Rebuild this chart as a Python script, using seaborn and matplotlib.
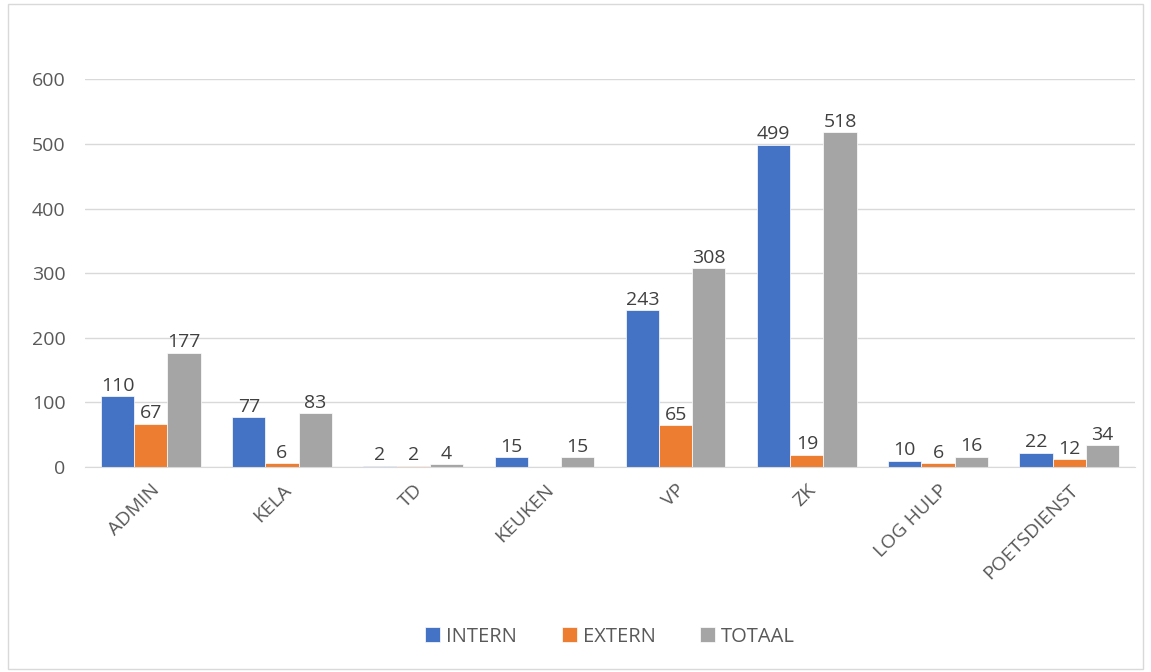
import numpy as np
import pandas as pd
import matplotlib.pyplot as plt
import seaborn as sns

# categories and series
afdelingen = ["ADMIN", "KELA", "TD", "KEUKEN", "VP", "ZK", "LOG HULP", "POETSDIENST"]
intern = [110, 77, 2, 15, 243, 499, 10, 22]
extern = [67, 6, 2, np.nan, 65, 19, 6, 12]
totaal = [177, 83, 4, 15, 308, 518, 16, 34]

df = pd.DataFrame({"afdeling": afdelingen, "INTERN": intern, "EXTERN": extern, "TOTAAL": totaal})
df = df.melt(id_vars="afdeling", var_name="soort", value_name="aantal")

sns.set_style("white")
plt.rcParams['font.family'] = ['Open Sans', 'DejaVu Sans']

fig = plt.figure(figsize=(11.51, 6.72), dpi=100)
ax = fig.add_axes([0.074, 0.305, 0.912, 0.577])

kleuren = {"INTERN": "#4472C4", "EXTERN": "#ED7D31", "TOTAAL": "#A5A5A5"}
sns.barplot(data=df, x="afdeling", y="aantal", hue="soort", palette=kleuren,
            width=0.76, ax=ax, saturation=1, linewidth=0.5, edgecolor="white")

# value labels
for c in ax.containers:
    ax.bar_label(c, fmt="%g", fontsize=14, color="#404040", padding=1)

ax.set_ylim(0, 600)
ax.set_yticks(range(0, 601, 100))
ax.yaxis.grid(True, color="#D9D9D9", linewidth=1)
ax.set_axisbelow(True)
for s in ["top", "right", "left"]:
    ax.spines[s].set_visible(False)
ax.spines["bottom"].set_color("#D9D9D9")
ax.set_xlabel("")
ax.set_ylabel("")
ax.tick_params(axis="both", length=0, labelsize=14, labelcolor="#595959", pad=10)
ax.tick_params(axis="y", pad=14)
plt.setp(ax.get_xticklabels(), rotation=45, ha="right", rotation_mode="anchor")

ax.legend(loc="upper center", bbox_to_anchor=(0.5, -0.365), ncol=3, frameon=False,
          fontsize=14.5, labelcolor="#595959", handlelength=0.75, handleheight=0.75,
          handletextpad=0.3, columnspacing=2.2)

# light border around the chart
fig.patches.append(plt.Rectangle((0.007, 0.004), 0.986, 0.99, transform=fig.transFigure,
                                 fill=False, edgecolor="#D9D9D9", linewidth=1))

fig.savefig("out.png", dpi=100)
